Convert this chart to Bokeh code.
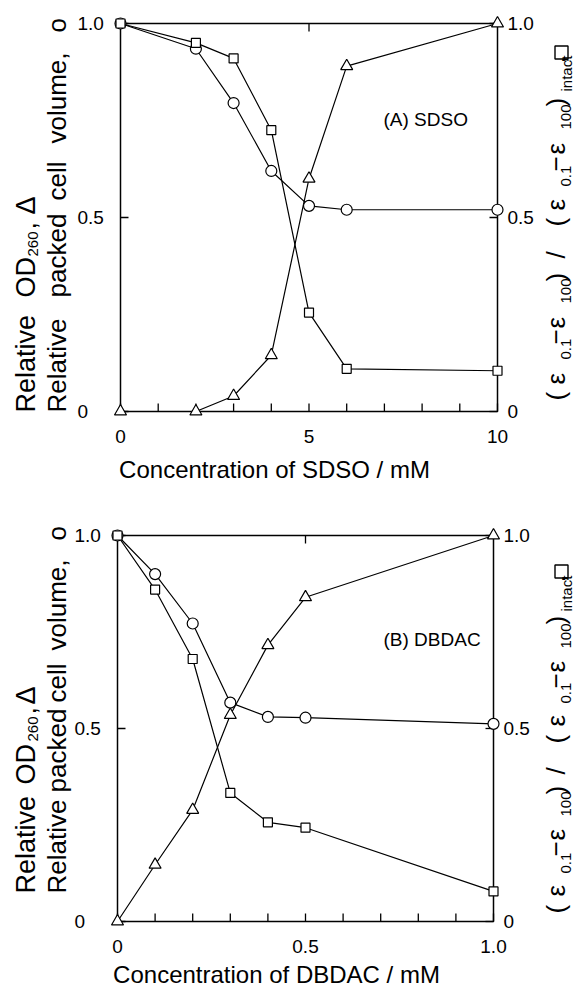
from math import pi
from bokeh.plotting import figure
from bokeh.models import Label, Range1d
from bokeh.core.properties import value
from bokeh.layouts import column
from bokeh.embed import file_html
from bokeh.resources import INLINE

# ---------------- data ----------------
# Panel A : SDSO
sdso_conc = [0, 2, 3, 4, 5, 6, 10]
sdso_packed_volume = [1.0, 0.935, 0.795, 0.62, 0.53, 0.52, 0.52]      # circles
sdso_eps_ratio = [1.0, 0.95, 0.91, 0.725, 0.255, 0.11, 0.105]          # squares
sdso_od260 = [0.0, 0.0, 0.04, 0.145, 0.60, 0.89, 1.0]                 # triangles

# Panel B : DBDAC
dbdac_conc = [0, 0.1, 0.2, 0.3, 0.4, 0.5, 1.0]
dbdac_packed_volume = [1.0, 0.90, 0.772, 0.567, 0.53, 0.528, 0.512]   # circles
dbdac_eps_ratio = [1.0, 0.86, 0.68, 0.333, 0.257, 0.243, 0.078]       # squares
dbdac_od260 = [0.0, 0.147, 0.289, 0.535, 0.716, 0.84, 1.0]            # triangles

y_extent = [0, 1.0]
y_ticks = [0, 0.5, 1.0]
y_tick_labels = ["0", "0.5", "1.0"]
sdso_x_extent = [0, 10]
sdso_x_ticks = [0, 5, 10]
sdso_x_tick_labels = ["0", "5", "10"]
sdso_x_minor = [1, 2, 3, 4, 6, 7, 8, 9]
dbdac_x_extent = [0, 1.0]
dbdac_x_ticks = [0, 0.5, 1.0]
dbdac_x_tick_labels = ["0", "0.5", "1.0"]
dbdac_x_minor = [0.1, 0.2, 0.3, 0.4, 0.6, 0.7, 0.8, 0.9]

sdso_title = "Concentration of SDSO / mM"
dbdac_title = "Concentration of DBDAC / mM"
sdso_tag = "(A) SDSO"
dbdac_tag = "(B) DBDAC"

# ---------------- styling / layout (page pixels) ----------------
MAIN = "Liberation Sans"
W = 577
TICK_LEN = 8
TICK_SIZE = 19
MID = 0.35          # centre of a text line above its baseline, in em

# rotated label pieces: (text, page_y_start, kind)  kind 0 main, 1 subscript, 2 square symbol
top_left_1 = [("Relative", 412, 0), ("OD", 297, 0), ("260", 256, 1), (",", 229, 0), ("Δ", 214, 0)]
top_left_2 = [("Relative", 412, 0), ("packed", 297, 0), ("cell", 200, 0), ("volume,", 143, 0), ("o", 32, 0)]
bot_left_1 = [("Relative", 893, 0), ("OD", 784, 0), ("260", 741, 1), (",", 714, 0), ("Δ", 704, 0)]
bot_left_2 = [("Relative", 893, 0), ("packed", 792, 0), ("cell", 702, 0), ("volume,", 650, 0), ("o", 540, 0)]

top_right = [("(", 400, 0), ("ε", 384, 0), ("0.1", 359, 1), ("−", 344, 0), ("ε", 328, 0), ("100", 303, 1),
             (")", 281, 0), ("/", 258, 0), ("(", 226, 0), ("ε", 210, 0), ("0.1", 186, 1), ("−", 171, 0),
             ("ε", 154, 0), ("100", 129, 1), (")", 106, 0), ("intact", 91, 1), (",", 63, 0), ("□", 52, 2)]
bot_right = [("(", 913, 0), ("ε", 896, 0), ("0.1", 873, 1), ("−", 856, 0), ("ε", 840, 0), ("100", 816, 1),
             (")", 794, 0), ("/", 774, 0), ("(", 743, 0), ("ε", 726, 0), ("0.1", 703, 1), ("−", 688, 0),
             ("ε", 672, 0), ("100", 648, 1), (")", 624, 0), ("intact", 611, 1), (",", 582, 0), ("□", 571, 2)]


def panel(top, H, box, xd, xt, xtl, xminor, top_tick, conc, pcv, eps, od,
          title, title_pos, tag, tag_pos, left1, left2, right, xlab_mid):
    L, R, T, B = box
    sx = (R - L) / (xd[1] - xd[0])
    sy = (B - T) / (y_extent[1] - y_extent[0])
    xr = Range1d(xd[0] - L / sx, xd[0] + (W - L) / sx)
    yr = Range1d(y_extent[0] - (top + H - B) / sy, y_extent[1] + (T - top) / sy)

    def X(px):
        return xd[0] + (px - L) / sx

    def Y(py):
        return y_extent[0] + (B - py) / sy

    p = figure(width=W, height=H, x_range=xr, y_range=yr, output_backend="svg",
               toolbar_location=None, x_axis_type=None, y_axis_type=None,
               min_border=0, min_border_left=0, min_border_right=0,
               min_border_top=0, min_border_bottom=0)
    p.title.visible = False
    p.outline_line_color = None
    p.background_fill_color = "white"
    p.border_fill_color = "white"

    # plot box
    p.quad(left=[xd[0]], right=[xd[1]], bottom=[y_extent[0]], top=[y_extent[1]],
           fill_color=None, line_color="black", line_width=1.5)

    # inward ticks
    xs = list(xt) + list(xminor)
    p.segment(x0=xs, y0=[y_extent[0]] * len(xs), x1=xs, y1=[y_extent[0] + TICK_LEN / sy] * len(xs),
              line_color="black", line_width=1.3)
    p.segment(x0=[top_tick], y0=[y_extent[1]], x1=[top_tick], y1=[y_extent[1] - TICK_LEN / sy],
              line_color="black", line_width=1.3)
    n = len(y_ticks)
    p.segment(x0=[xd[0]] * n, y0=y_ticks, x1=[xd[0] + TICK_LEN / sx] * n, y1=y_ticks,
              line_color="black", line_width=1.3)
    p.segment(x0=[xd[1]] * n, y0=y_ticks, x1=[xd[1] - TICK_LEN / sx] * n, y1=y_ticks,
              line_color="black", line_width=1.3)

    # tick labels
    tick_font = dict(text_font=value(MAIN), text_font_size=f"{TICK_SIZE}px",
                     text_color="black", text_baseline="middle")
    p.text(x=xt, y=[Y(xlab_mid)] * len(xt), text=xtl, text_align="center", **tick_font)
    p.text(x=[X(L - 43)] * n, y=y_ticks, text=y_tick_labels, text_align="left", **tick_font)
    p.text(x=[X(R + 10)] * n, y=y_ticks, text=y_tick_labels, text_align="left", **tick_font)

    # data
    for ys in (pcv, eps, od):
        p.line(conc, ys, line_color="black", line_width=1.2)
    for ys, mk, sz in ((pcv, "circle", 11), (eps, "square", 9), (od, "triangle", 12)):
        p.scatter(conc, ys, marker=mk, size=sz, fill_color="white",
                  line_color="black", line_width=1.2)

    # text placed by its baseline (page px); Bokeh anchors at the line middle
    def add_h(text, px, base_y, size, align="left"):
        p.add_layout(Label(x=X(px), y=Y(base_y - MID * size), text=text, text_font=MAIN,
                           text_font_size=f"{size}px", text_color="black",
                           text_align=align, text_baseline="middle"))

    def add_v(text, base_x, py, size):
        p.add_layout(Label(x=X(base_x - MID * size), y=Y(py), text=text, angle=pi / 2,
                           text_font=MAIN, text_font_size=f"{size}px", text_color="black",
                           text_align="left", text_baseline="middle"))

    for txt, py, k in left1:
        if k == 1:
            add_v(txt, 38, py, 15)
        else:
            add_v(txt, 35, py, 27)
    for txt, py, k in left2:
        add_v(txt, 66, py, 26)
    for txt, py, k in right:
        if k == 1:
            add_v(txt, 571, py, 15)
        elif k == 2:
            # the open-square symbol of the axis title, drawn as the same marker as the series
            p.scatter([X(561)], [Y(py)], marker="square", size=13, fill_color="white",
                      line_color="black", line_width=1.4)
        else:
            add_v(txt, 565, py, 26)

    add_h(title, title_pos[0], title_pos[1], 24, align="center")
    add_h(tag, tag_pos[0], tag_pos[1], 19)
    return p


p1 = panel(0, 488, (120, 497, 23, 411), sdso_x_extent, sdso_x_ticks, sdso_x_tick_labels,
           sdso_x_minor, 5, sdso_conc, sdso_packed_volume, sdso_eps_ratio, sdso_od260,
           sdso_title, (274, 477), sdso_tag, (383, 126),
           top_left_1, top_left_2, top_right, 436)
p2 = panel(488, 500, (117, 493, 535, 921), dbdac_x_extent, dbdac_x_ticks, dbdac_x_tick_labels,
           dbdac_x_minor, 0.5, dbdac_conc, dbdac_packed_volume, dbdac_eps_ratio, dbdac_od260,
           dbdac_title, (276, 982), dbdac_tag, (383, 646),
           bot_left_1, bot_left_2, bot_right, 946)

layout = column(p1, p2, spacing=0)
open("out.html", "w").write(file_html(layout, INLINE))
